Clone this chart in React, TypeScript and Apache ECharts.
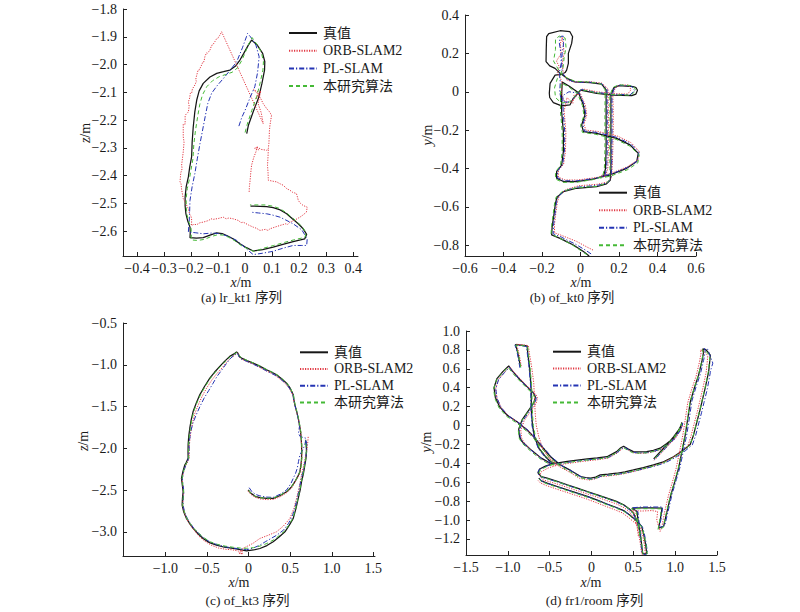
import React, { useEffect, useRef } from 'react';
import * as echarts from 'echarts';

const methodNames = ['真值', 'ORB-SLAM2', 'PL-SLAM', '本研究算法'];
const captions = ['(a) lr_kt1 序列', '(b) of_kt0 序列', '(c) of_kt3 序列', '(d) fr1/room 序列'];
const yNames = ['z', 'y', 'z', 'y'];

const aXTicks = [-0.4, -0.3, -0.2, -0.1, 0, 0.1, 0.2, 0.3, 0.4];
const aYTicks = [-2.6, -2.5, -2.4, -2.3, -2.2, -2.1, -2.0, -1.9, -1.8];
const bXTicks = [-0.6, -0.4, -0.2, 0, 0.2, 0.4, 0.6];
const bYTicks = [-0.8, -0.6, -0.4, -0.2, 0, 0.2, 0.4];
const cXTicks = [-1.0, -0.5, 0, 0.5, 1.0, 1.5];
const cYTicks = [-3.0, -2.5, -2.0, -1.5, -1.0, -0.5];
const dXTicks = [-1.5, -1.0, -0.5, 0, 0.5, 1.0, 1.5];
const dYTicks = [-1.2, -1.0, -0.8, -0.6, -0.4, -0.2, 0, 0.2, 0.4, 0.6, 0.8, 1.0];

// ---------------- (a) lr_kt1 ----------------
const aTruth = [[0.006,-2.249],[0.012,-2.22],[0.03,-2.17],[0.05,-2.12],[0.062,-2.07],[0.072,-2.02],[0.073,-1.99],[0.065,-1.96],[0.045,-1.93],[0.024,-1.912],[0.012,-1.93],[-0.005,-1.96],[-0.019,-1.984],[-0.035,-2.005],[-0.056,-2.02],[-0.08,-2.026],[-0.105,-2.032],[-0.13,-2.045],[-0.155,-2.068],[-0.17,-2.095],[-0.179,-2.128],[-0.186,-2.17],[-0.192,-2.225],[-0.196,-2.28],[-0.198,-2.333],[-0.205,-2.37],[-0.21,-2.405],[-0.218,-2.44],[-0.222,-2.477],[-0.222,-2.51],[-0.219,-2.538],[-0.212,-2.565],[-0.204,-2.586],[-0.203,-2.605],[-0.204,-2.624],[-0.18,-2.626],[-0.155,-2.624],[-0.13,-2.615],[-0.105,-2.607],[-0.085,-2.609],[-0.068,-2.616],[-0.045,-2.628],[-0.019,-2.646],[0.005,-2.66],[0.03,-2.672],[0.065,-2.667],[0.104,-2.658],[0.14,-2.648],[0.178,-2.638],[0.205,-2.632],[0.221,-2.628],[0.228,-2.612],[0.215,-2.592],[0.197,-2.574],[0.175,-2.556],[0.154,-2.538],[0.13,-2.524],[0.104,-2.516],[0.08,-2.512],[0.055,-2.511],[0.02,-2.51]];
const aOrb = [[0.015,-2.459],[0.016,-2.44],[0.018,-2.423],[0.021,-2.39],[0.024,-2.363],[0.032,-2.335],[0.04,-2.315],[0.045,-2.298],[0.035,-2.302],[0.05,-2.308],[0.042,-2.296],[0.06,-2.306],[0.08,-2.309],[0.086,-2.303],[0.088,-2.285],[0.089,-2.267],[0.09,-2.24],[0.092,-2.219],[0.098,-2.183],[0.09,-2.17],[0.08,-2.159],[0.067,-2.141],[0.055,-2.117],[0.045,-2.104],[0.03,-2.09],[0.05,-2.1],[0.04,-2.125],[0.058,-2.095],[0.048,-2.14],[0.06,-2.175],[0.067,-2.213],[-0.087,-1.882],[-0.093,-1.894],[-0.098,-1.9],[-0.1,-1.905],[-0.107,-1.909],[-0.112,-1.918],[-0.12,-1.93],[-0.124,-1.931],[-0.13,-1.948],[-0.14,-1.96],[-0.143,-1.958],[-0.149,-1.972],[-0.152,-1.99],[-0.156,-1.99],[-0.161,-2.002],[-0.17,-2.02],[-0.174,-2.02],[-0.179,-2.038],[-0.183,-2.055],[-0.18,-2.06],[-0.186,-2.074],[-0.195,-2.088],[-0.198,-2.104],[-0.203,-2.104],[-0.205,-2.12],[-0.21,-2.135],[-0.207,-2.15],[-0.21,-2.171],[-0.222,-2.183],[-0.222,-2.215],[-0.229,-2.215],[-0.229,-2.26],[-0.226,-2.28],[-0.229,-2.315],[-0.235,-2.363],[-0.233,-2.375],[-0.238,-2.39],[-0.241,-2.423],[-0.237,-2.43],[-0.235,-2.45],[-0.229,-2.483],[-0.225,-2.49],[-0.22,-2.5],[-0.21,-2.52],[-0.205,-2.54],[-0.201,-2.545],[-0.198,-2.556],[-0.198,-2.58],[-0.19,-2.576],[-0.179,-2.577],[-0.167,-2.57],[-0.155,-2.568],[-0.135,-2.562],[-0.126,-2.556],[-0.118,-2.558],[-0.1,-2.555],[-0.081,-2.55],[-0.07,-2.556],[-0.06,-2.553],[-0.044,-2.556],[-0.025,-2.562],[-0.015,-2.57],[-0.007,-2.568],[0.012,-2.578],[0.03,-2.586],[0.042,-2.59],[0.055,-2.598],[0.075,-2.594],[0.085,-2.598],[0.092,-2.592],[0.11,-2.586],[0.129,-2.58],[0.15,-2.574],[0.158,-2.576],[0.166,-2.568],[0.185,-2.56],[0.203,-2.55],[0.212,-2.544],[0.227,-2.532],[0.23,-2.514],[0.215,-2.508],[0.205,-2.5],[0.197,-2.49],[0.194,-2.478],[0.19,-2.465],[0.175,-2.46],[0.166,-2.453],[0.155,-2.448],[0.141,-2.435],[0.13,-2.43],[0.117,-2.423],[0.1,-2.42],[0.086,-2.417],[0.085,-2.39],[0.083,-2.363],[0.085,-2.33],[0.086,-2.303]];
const aPl = [[-0.023,-2.222],[-0.012,-2.19],[0.0,-2.165],[0.018,-2.12],[0.036,-2.08],[0.046,-2.03],[0.052,-1.972],[0.04,-1.93],[0.02,-1.9],[0.009,-1.888],[0.005,-1.9],[-0.01,-1.94],[-0.031,-1.99],[-0.055,-2.02],[-0.08,-2.05],[-0.105,-2.078],[-0.124,-2.104],[-0.138,-2.14],[-0.148,-2.189],[-0.158,-2.24],[-0.167,-2.285],[-0.177,-2.34],[-0.186,-2.393],[-0.196,-2.44],[-0.204,-2.49],[-0.206,-2.55],[-0.21,-2.604],[-0.185,-2.606],[-0.155,-2.61],[-0.12,-2.607],[-0.093,-2.61],[-0.06,-2.62],[-0.031,-2.634],[0.0,-2.66],[0.03,-2.685],[0.065,-2.68],[0.104,-2.673],[0.14,-2.662],[0.178,-2.652],[0.21,-2.652],[0.228,-2.652],[0.23,-2.628],[0.21,-2.596],[0.178,-2.574],[0.15,-2.56],[0.129,-2.55],[0.1,-2.542],[0.08,-2.538],[0.05,-2.535],[0.02,-2.532]];
const aOurs = [[0.0,-2.245],[0.008,-2.215],[0.025,-2.165],[0.043,-2.115],[0.056,-2.065],[0.066,-2.02],[0.068,-1.99],[0.06,-1.955],[0.042,-1.925],[0.026,-1.903],[0.014,-1.925],[0.0,-1.958],[-0.012,-1.985],[-0.028,-2.012],[-0.048,-2.028],[-0.072,-2.036],[-0.096,-2.044],[-0.12,-2.058],[-0.142,-2.08],[-0.158,-2.11],[-0.168,-2.145],[-0.176,-2.19],[-0.184,-2.24],[-0.19,-2.29],[-0.193,-2.34],[-0.2,-2.378],[-0.206,-2.412],[-0.214,-2.447],[-0.218,-2.482],[-0.218,-2.515],[-0.215,-2.542],[-0.207,-2.57],[-0.2,-2.59],[-0.199,-2.61],[-0.2,-2.632],[-0.176,-2.634],[-0.15,-2.63],[-0.126,-2.62],[-0.1,-2.613],[-0.08,-2.615],[-0.062,-2.622],[-0.04,-2.634],[-0.015,-2.652],[0.01,-2.664],[0.034,-2.674],[0.068,-2.662],[0.106,-2.652],[0.142,-2.642],[0.18,-2.632],[0.207,-2.626],[0.222,-2.622],[0.226,-2.606],[0.212,-2.586],[0.194,-2.568],[0.172,-2.55],[0.15,-2.532],[0.126,-2.518],[0.1,-2.51],[0.076,-2.506],[0.05,-2.506],[0.018,-2.506]];

// ---------------- (b) of_kt0 ----------------
const bTruth = [[0.045,-0.856],[0.015,-0.833],[-0.037,-0.799],[-0.075,-0.78],[-0.106,-0.764],[-0.15,-0.746],[-0.147,-0.7],[-0.138,-0.64],[-0.13,-0.58],[-0.122,-0.55],[-0.089,-0.521],[-0.02,-0.503],[0.084,-0.495],[0.135,-0.48],[0.155,-0.46],[0.158,-0.4],[0.158,-0.3],[0.158,-0.2],[0.158,-0.1],[0.158,-0.02],[0.172,0.02],[0.2,0.032],[0.274,0.027],[0.288,0.022],[0.296,0.008],[0.288,-0.012],[0.266,-0.02],[0.17,-0.017],[0.084,-0.008],[0.0,0.009],[-0.029,-0.026],[-0.037,-0.034],[-0.055,-0.069],[-0.098,-0.074],[-0.141,-0.057],[-0.16,-0.03],[-0.162,-0.008],[-0.158,0.044],[-0.132,0.087],[-0.1,0.09],[-0.08,0.1],[-0.072,0.113],[-0.063,0.148],[-0.063,0.2],[-0.046,0.252],[-0.041,0.287],[-0.055,0.313],[-0.106,0.318],[-0.165,0.303],[-0.176,0.287],[-0.178,0.22],[-0.179,0.157],[-0.16,0.135],[-0.132,0.122],[-0.106,0.096],[-0.07,0.07],[-0.03,0.052],[0.05,0.048],[0.11,0.04],[0.133,0.01],[0.133,-0.1],[0.133,-0.2],[0.133,-0.3],[0.13,-0.4],[0.12,-0.44],[0.067,-0.455],[-0.02,-0.468],[-0.089,-0.468],[-0.124,-0.451],[-0.124,-0.416],[-0.098,-0.382],[-0.089,-0.312],[-0.089,-0.208],[-0.098,-0.104],[-0.098,-0.017],[-0.095,0.05],[-0.06,0.03],[-0.01,-0.005],[0.015,-0.069],[0.023,-0.121],[0.006,-0.173],[0.015,-0.208],[0.084,-0.217],[0.188,-0.243],[0.257,-0.277],[0.3,-0.321],[0.292,-0.364],[0.24,-0.399],[0.153,-0.434],[0.1,-0.445]];
const bOrb = [[0.065,-0.825],[0.035,-0.81],[-0.02,-0.78],[-0.07,-0.76],[-0.1,-0.748],[-0.135,-0.735],[-0.135,-0.69],[-0.128,-0.63],[-0.12,-0.575],[-0.11,-0.54],[-0.075,-0.51],[-0.01,-0.49],[0.09,-0.482],[0.14,-0.47],[0.16,-0.45],[0.165,-0.39],[0.168,-0.3],[0.17,-0.2],[0.17,-0.1],[0.168,-0.02],[0.18,0.02],[0.205,0.035],[0.25,0.035],[0.262,0.01],[0.245,-0.012],[0.17,-0.01],[0.085,0.0],[0.01,0.015],[-0.02,-0.02],[-0.045,-0.05],[-0.07,-0.06],[-0.09,-0.04],[-0.1,0.0],[-0.095,0.05],[-0.12,0.1],[-0.11,0.13],[-0.125,0.16],[-0.1,0.2],[-0.105,0.25],[-0.095,0.285],[-0.09,0.25],[-0.085,0.2],[-0.095,0.15],[-0.09,0.1],[-0.07,0.06],[-0.03,0.05],[0.05,0.052],[0.11,0.045],[0.143,0.015],[0.145,-0.1],[0.145,-0.2],[0.145,-0.3],[0.142,-0.4],[0.13,-0.44],[0.075,-0.448],[-0.015,-0.46],[-0.08,-0.46],[-0.115,-0.445],[-0.115,-0.41],[-0.088,-0.378],[-0.078,-0.31],[-0.076,-0.21],[-0.085,-0.1],[-0.07,-0.03],[-0.04,-0.06],[-0.035,-0.02],[0.0,-0.01],[0.025,-0.07],[0.033,-0.12],[0.018,-0.17],[0.028,-0.2],[0.09,-0.207],[0.195,-0.232],[0.262,-0.265],[0.305,-0.31],[0.298,-0.355],[0.245,-0.39],[0.16,-0.425],[0.105,-0.437]];
const bPl = [[0.055,-0.845],[0.025,-0.825],[-0.03,-0.792],[-0.07,-0.773],[-0.1,-0.757],[-0.142,-0.74],[-0.14,-0.695],[-0.132,-0.635],[-0.125,-0.578],[-0.115,-0.545],[-0.082,-0.515],[-0.015,-0.497],[0.086,-0.488],[0.138,-0.475],[0.158,-0.455],[0.162,-0.395],[0.163,-0.3],[0.164,-0.2],[0.164,-0.1],[0.163,-0.02],[0.176,0.02],[0.202,0.034],[0.265,0.03],[0.282,0.006],[0.258,-0.016],[0.17,-0.013],[0.084,-0.004],[0.005,0.012],[-0.025,-0.022],[-0.05,-0.05],[-0.075,-0.055],[-0.1,-0.045],[-0.108,0.0],[-0.105,0.05],[-0.11,0.1],[-0.1,0.15],[-0.102,0.2],[-0.11,0.255],[-0.105,0.288],[-0.09,0.29],[-0.088,0.25],[-0.095,0.2],[-0.098,0.15],[-0.095,0.1],[-0.07,0.065],[-0.03,0.05],[0.05,0.05],[0.11,0.042],[0.138,0.012],[0.139,-0.1],[0.139,-0.2],[0.139,-0.3],[0.136,-0.4],[0.125,-0.442],[0.07,-0.452],[-0.018,-0.464],[-0.085,-0.464],[-0.12,-0.448],[-0.12,-0.413],[-0.093,-0.38],[-0.083,-0.31],[-0.082,-0.208],[-0.09,-0.104],[-0.092,-0.02],[-0.06,0.0],[-0.005,-0.008],[0.02,-0.069],[0.028,-0.121],[0.012,-0.172],[0.021,-0.205],[0.087,-0.212],[0.19,-0.238],[0.26,-0.272],[0.303,-0.316],[0.296,-0.36],[0.243,-0.395],[0.157,-0.43],[0.103,-0.441]];
const bOurs = [[0.035,-0.85],[0.005,-0.83],[-0.045,-0.797],[-0.08,-0.778],[-0.11,-0.762],[-0.153,-0.742],[-0.15,-0.697],[-0.142,-0.638],[-0.134,-0.578],[-0.126,-0.548],[-0.092,-0.518],[-0.022,-0.5],[0.082,-0.493],[0.134,-0.477],[0.152,-0.458],[0.153,-0.4],[0.152,-0.3],[0.153,-0.2],[0.153,-0.1],[0.152,-0.02],[0.168,0.022],[0.198,0.036],[0.27,0.032],[0.29,0.008],[0.262,-0.018],[0.168,-0.015],[0.082,-0.006],[0.0,0.012],[-0.032,-0.028],[-0.058,-0.055],[-0.1,-0.058],[-0.13,-0.03],[-0.135,0.02],[-0.12,0.07],[-0.1,0.09],[-0.14,0.16],[-0.13,0.22],[-0.13,0.275],[-0.11,0.29],[-0.08,0.28],[-0.075,0.23],[-0.085,0.18],[-0.09,0.13],[-0.1,0.1],[-0.07,0.072],[-0.03,0.055],[0.05,0.05],[0.105,0.042],[0.128,0.01],[0.127,-0.1],[0.127,-0.2],[0.127,-0.3],[0.124,-0.4],[0.115,-0.442],[0.064,-0.458],[-0.022,-0.472],[-0.092,-0.472],[-0.13,-0.455],[-0.13,-0.418],[-0.104,-0.384],[-0.095,-0.312],[-0.095,-0.208],[-0.104,-0.104],[-0.104,-0.017],[-0.1,0.045],[-0.065,0.028],[-0.015,-0.01],[0.01,-0.072],[0.018,-0.124],[0.0,-0.176],[0.01,-0.212],[0.08,-0.222],[0.185,-0.248],[0.255,-0.283],[0.305,-0.328],[0.298,-0.37],[0.245,-0.406],[0.155,-0.44],[0.1,-0.45]];

// ---------------- (c) of_kt3 ----------------
const cTruth = [[-0.005,-2.5],[0.03,-2.54],[0.08,-2.575],[0.136,-2.592],[0.22,-2.6],[0.296,-2.6],[0.38,-2.565],[0.457,-2.52],[0.51,-2.47],[0.557,-2.4],[0.595,-2.33],[0.617,-2.28],[0.63,-2.2],[0.637,-2.12],[0.638,-2.04],[0.637,-1.96],[0.632,-1.88],[0.625,-1.8],[0.612,-1.72],[0.597,-1.64],[0.578,-1.56],[0.557,-1.48],[0.545,-1.42],[0.537,-1.36],[0.5,-1.28],[0.457,-1.22],[0.4,-1.17],[0.336,-1.12],[0.28,-1.09],[0.216,-1.06],[0.14,-1.02],[0.055,-0.98],[-0.02,-0.95],[-0.085,-0.92],[-0.11,-0.9],[-0.13,-0.86],[-0.145,-0.848],[-0.175,-0.87],[-0.226,-0.9],[-0.29,-0.96],[-0.346,-1.02],[-0.41,-1.09],[-0.466,-1.16],[-0.53,-1.26],[-0.587,-1.36],[-0.63,-1.46],[-0.667,-1.56],[-0.69,-1.66],[-0.707,-1.76],[-0.72,-1.86],[-0.727,-1.96],[-0.728,-2.05],[-0.727,-2.12],[-0.75,-2.17],[-0.767,-2.2],[-0.79,-2.28],[-0.807,-2.36],[-0.797,-2.44],[-0.787,-2.52],[-0.795,-2.6],[-0.799,-2.68],[-0.78,-2.76],[-0.747,-2.84],[-0.71,-2.9],[-0.667,-2.96],[-0.61,-3.02],[-0.547,-3.08],[-0.47,-3.13],[-0.386,-3.16],[-0.29,-3.185],[-0.185,-3.2],[-0.1,-3.215],[-0.025,-3.228],[0.06,-3.218],[0.136,-3.2],[0.22,-3.165],[0.296,-3.12],[0.37,-3.06],[0.437,-3.0],[0.49,-2.92],[0.537,-2.84],[0.57,-2.72],[0.597,-2.6],[0.62,-2.5],[0.637,-2.4],[0.66,-2.3],[0.677,-2.2],[0.69,-2.12],[0.697,-2.04],[0.694,-1.97],[0.685,-1.9]];
const cOrb = [[-0.01,-2.51],[0.025,-2.55],[0.08,-2.588],[0.136,-2.606],[0.22,-2.615],[0.3,-2.612],[0.385,-2.578],[0.46,-2.53],[0.515,-2.478],[0.56,-2.405],[0.598,-2.335],[0.62,-2.285],[0.632,-2.2],[0.64,-2.12],[0.641,-2.04],[0.638,-1.96],[0.633,-1.88],[0.626,-1.8],[0.612,-1.72],[0.596,-1.64],[0.576,-1.56],[0.555,-1.48],[0.541,-1.42],[0.532,-1.36],[0.49,-1.285],[0.445,-1.228],[0.39,-1.18],[0.33,-1.135],[0.27,-1.1],[0.205,-1.07],[0.13,-1.03],[0.05,-0.99],[-0.025,-0.96],[-0.09,-0.93],[-0.11,-0.91],[-0.12,-0.87],[-0.13,-0.86],[-0.16,-0.88],[-0.21,-0.915],[-0.27,-0.975],[-0.32,-1.04],[-0.385,-1.11],[-0.44,-1.18],[-0.505,-1.28],[-0.56,-1.38],[-0.605,-1.48],[-0.645,-1.58],[-0.67,-1.68],[-0.69,-1.78],[-0.705,-1.88],[-0.712,-1.97],[-0.715,-2.05],[-0.715,-2.12],[-0.74,-2.18],[-0.758,-2.21],[-0.782,-2.29],[-0.8,-2.37],[-0.79,-2.45],[-0.78,-2.53],[-0.787,-2.61],[-0.79,-2.69],[-0.772,-2.77],[-0.74,-2.85],[-0.7,-2.92],[-0.655,-2.98],[-0.6,-3.05],[-0.53,-3.11],[-0.45,-3.16],[-0.36,-3.195],[-0.27,-3.21],[-0.2,-3.215],[-0.15,-3.225],[-0.12,-3.23],[-0.105,-3.27],[-0.095,-3.215],[-0.08,-3.275],[-0.07,-3.2],[-0.03,-3.18],[0.05,-3.14],[0.136,-3.08],[0.24,-3.04],[0.336,-3.0],[0.42,-2.93],[0.497,-2.84],[0.545,-2.72],[0.577,-2.6],[0.61,-2.46],[0.637,-2.32],[0.668,-2.18],[0.697,-2.04],[0.71,-1.95],[0.717,-1.86]];
const cPl = [[0.007,-2.472],[0.04,-2.52],[0.085,-2.553],[0.136,-2.57],[0.22,-2.585],[0.296,-2.588],[0.38,-2.55],[0.457,-2.5],[0.51,-2.42],[0.537,-2.36],[0.565,-2.3],[0.585,-2.24],[0.6,-2.16],[0.617,-2.08],[0.65,-2.02],[0.677,-1.96],[0.69,-1.88],[0.62,-1.86],[0.6,-1.82],[0.612,-1.74],[0.6,-1.66],[0.58,-1.57],[0.558,-1.49],[0.545,-1.43],[0.535,-1.37],[0.498,-1.29],[0.455,-1.232],[0.395,-1.18],[0.33,-1.13],[0.27,-1.1],[0.21,-1.07],[0.135,-1.03],[0.05,-0.99],[-0.025,-0.958],[-0.09,-0.93],[-0.115,-0.905],[-0.13,-0.87],[-0.14,-0.858],[-0.17,-0.885],[-0.215,-0.92],[-0.27,-0.99],[-0.32,-1.06],[-0.38,-1.14],[-0.426,-1.22],[-0.48,-1.31],[-0.535,-1.4],[-0.585,-1.5],[-0.63,-1.6],[-0.67,-1.7],[-0.695,-1.8],[-0.71,-1.9],[-0.715,-1.99],[-0.716,-2.08],[-0.73,-2.15],[-0.755,-2.2],[-0.78,-2.28],[-0.797,-2.36],[-0.788,-2.44],[-0.778,-2.52],[-0.785,-2.6],[-0.788,-2.68],[-0.77,-2.76],[-0.737,-2.84],[-0.7,-2.9],[-0.657,-2.96],[-0.6,-3.02],[-0.537,-3.075],[-0.46,-3.125],[-0.376,-3.155],[-0.28,-3.18],[-0.18,-3.195],[-0.1,-3.205],[-0.025,-3.215],[0.055,-3.195],[0.136,-3.16],[0.2,-3.12],[0.27,-3.08],[0.34,-3.04],[0.42,-2.98],[0.48,-2.9],[0.53,-2.8],[0.56,-2.7],[0.59,-2.58],[0.61,-2.48],[0.63,-2.38],[0.655,-2.28],[0.675,-2.18],[0.69,-2.08],[0.7,-2.0],[0.698,-1.94],[0.695,-1.9]];
const cOurs = [[0.0,-2.505],[0.035,-2.545],[0.085,-2.578],[0.14,-2.594],[0.222,-2.598],[0.298,-2.596],[0.382,-2.56],[0.46,-2.515],[0.513,-2.465],[0.56,-2.395],[0.598,-2.326],[0.62,-2.276],[0.633,-2.198],[0.64,-2.12],[0.641,-2.04],[0.64,-1.96],[0.635,-1.88],[0.628,-1.8],[0.615,-1.72],[0.6,-1.64],[0.581,-1.56],[0.56,-1.48],[0.548,-1.42],[0.54,-1.36],[0.503,-1.28],[0.46,-1.22],[0.403,-1.168],[0.34,-1.118],[0.283,-1.088],[0.22,-1.058],[0.143,-1.018],[0.058,-0.978],[-0.017,-0.948],[-0.082,-0.918],[-0.107,-0.898],[-0.125,-0.862],[-0.14,-0.852],[-0.17,-0.872],[-0.22,-0.903],[-0.284,-0.963],[-0.34,-1.023],[-0.404,-1.093],[-0.46,-1.163],[-0.524,-1.263],[-0.58,-1.363],[-0.624,-1.463],[-0.66,-1.563],[-0.684,-1.663],[-0.7,-1.763],[-0.714,-1.863],[-0.72,-1.963],[-0.722,-2.053],[-0.72,-2.123],[-0.744,-2.173],[-0.76,-2.203],[-0.784,-2.283],[-0.8,-2.363],[-0.79,-2.443],[-0.78,-2.523],[-0.788,-2.603],[-0.792,-2.683],[-0.773,-2.763],[-0.74,-2.843],[-0.703,-2.9],[-0.66,-2.958],[-0.603,-3.015],[-0.54,-3.07],[-0.46,-3.12],[-0.376,-3.15],[-0.28,-3.172],[-0.18,-3.186],[-0.1,-3.195],[-0.025,-3.198],[0.06,-3.19],[0.14,-3.17],[0.22,-3.14],[0.296,-3.1],[0.37,-3.045],[0.437,-2.988],[0.49,-2.91],[0.535,-2.832],[0.567,-2.716],[0.594,-2.598],[0.617,-2.498],[0.634,-2.398],[0.657,-2.298],[0.674,-2.198],[0.687,-2.118],[0.694,-2.04],[0.691,-1.97],[0.682,-1.9]];

// ---------------- (d) fr1/room (null = break in the track) ----------------
const dTruth = [[-0.85,0.62],[-0.87,0.72],[-0.89,0.8],[-0.91,0.856],[-0.84,0.85],[-0.77,0.842],[-0.76,0.75],[-0.745,0.65],[-0.735,0.55],[-0.725,0.45],[-0.72,0.35],[-0.72,0.25],[-0.715,0.12],[-0.705,0.0],[-0.68,-0.12],[-0.63,-0.24],[-0.55,-0.33],[-0.49,-0.38],[-0.45,-0.4],[-0.55,-0.43],[-0.62,-0.46],[-0.64,-0.5],[-0.6,-0.54],[-0.53,-0.557],[-0.41,-0.59],[-0.29,-0.627],[-0.17,-0.662],[-0.05,-0.698],[0.07,-0.733],[0.185,-0.768],[0.29,-0.8],[0.384,-0.838],[0.45,-0.88],[0.5,-0.926],[0.535,-0.99],[0.56,-1.05],[0.578,-1.12],[0.59,-1.19],[0.6,-1.27],[0.61,-1.35],[0.635,-1.36],[0.66,-1.35],[0.645,-1.25],[0.625,-1.155],[0.6,-1.07],[0.565,-1.03],[0.52,-0.996],[0.46,-0.95],[0.384,-0.9],[0.29,-0.865],[0.185,-0.83],[0.07,-0.79],[-0.05,-0.75],[-0.17,-0.715],[-0.29,-0.68],[-0.41,-0.645],[-0.53,-0.61],[-0.6,-0.585],[-0.63,-0.557],null,[0.583,-1.155],[0.56,-1.03],[0.544,-0.91],[0.484,-0.873],[0.6,-0.872],[0.72,-0.871],[0.843,-0.873],[0.825,-0.98],[0.802,-1.085],[0.862,-1.067],[0.9,-0.92],[0.95,-0.73],[1.0,-0.58],[1.041,-0.452],[1.08,-0.28],[1.121,-0.1],[1.15,0.07],[1.181,0.251],[1.23,0.4],[1.28,0.533],[1.32,0.68],[1.34,0.778],[1.33,0.81],[1.37,0.8],[1.42,0.744],[1.41,0.65],[1.4,0.568],[1.36,0.4],[1.32,0.251],[1.29,0.14],[1.26,0.04],[1.22,-0.1],[1.18,-0.2],[1.1,-0.26],[0.98,-0.33],[0.86,-0.385],[0.74,-0.417],[0.62,-0.445],[0.5,-0.47],[0.4,-0.49],[0.3,-0.505],[0.2,-0.515],[0.105,-0.522],[0.05,-0.545],[-0.01,-0.557],[-0.07,-0.55],[-0.13,-0.54],[-0.25,-0.475],[-0.37,-0.417],[-0.49,-0.33],[-0.61,-0.206],[-0.69,-0.12],[-0.77,-0.047],[-0.89,0.04],[-1.01,0.11],[-1.1,0.2],[-1.15,0.3],[-1.165,0.4],[-1.13,0.497],[-1.06,0.57],[-0.99,0.63],[-0.95,0.58],[-0.87,0.5],[-0.78,0.42],[-0.69,0.34],[-0.67,0.3],[-0.69,0.24],[-0.76,0.15],[-0.83,0.06],[-0.87,-0.04],[-0.86,-0.12],[-0.83,-0.17],[-0.72,-0.26],[-0.6,-0.345],[-0.49,-0.4],[-0.4,-0.395],[-0.29,-0.38],[-0.17,-0.365],[-0.05,-0.353],[0.07,-0.342],[0.185,-0.33],[0.25,-0.3],[0.3,-0.276],[0.35,-0.235],[0.384,-0.22],[0.44,-0.25],[0.5,-0.276],[0.58,-0.28],[0.66,-0.276],[0.74,-0.262],[0.82,-0.24],[0.9,-0.19],[0.98,-0.135],[1.03,-0.07],[1.06,-0.03],[1.08,0.033],[1.07,0.0],[1.04,-0.05],[0.98,-0.12],[0.9,-0.206],[0.82,-0.28],[0.743,-0.353]];
const dOrb = [[-0.84,0.63],[-0.86,0.73],[-0.88,0.81],[-0.9,0.86],[-0.83,0.855],[-0.755,0.845],[-0.74,0.75],[-0.72,0.65],[-0.705,0.55],[-0.69,0.45],[-0.685,0.35],[-0.68,0.25],[-0.672,0.12],[-0.66,0.0],[-0.63,-0.12],[-0.58,-0.25],[-0.5,-0.35],[-0.44,-0.4],[-0.41,-0.42],[-0.52,-0.45],[-0.6,-0.49],[-0.62,-0.53],[-0.58,-0.575],[-0.5,-0.595],[-0.39,-0.625],[-0.27,-0.66],[-0.15,-0.695],[-0.03,-0.73],[0.09,-0.765],[0.2,-0.8],[0.3,-0.83],[0.39,-0.87],[0.45,-0.91],[0.49,-0.96],[0.525,-1.02],[0.55,-1.08],[0.565,-1.15],[0.578,-1.22],[0.59,-1.29],[0.6,-1.36],[0.625,-1.37],[0.645,-1.36],[0.632,-1.26],[0.612,-1.165],[0.588,-1.085],[0.55,-1.05],[0.505,-1.02],[0.445,-0.975],[0.37,-0.925],[0.275,-0.89],[0.17,-0.855],[0.055,-0.815],[-0.065,-0.775],[-0.185,-0.74],[-0.305,-0.705],[-0.425,-0.67],[-0.54,-0.635],[-0.61,-0.608],[-0.64,-0.58],null,[0.56,-1.17],[0.54,-1.04],[0.52,-0.925],[0.47,-0.9],[0.6,-0.905],[0.72,-0.9],[0.79,-0.91],[0.78,-1.0],[0.82,-1.12],[0.84,-1.08],[0.87,-0.93],[0.92,-0.74],[0.97,-0.59],[1.01,-0.46],[1.05,-0.29],[1.09,-0.11],[1.12,0.06],[1.15,0.24],[1.2,0.39],[1.25,0.52],[1.29,0.67],[1.31,0.77],[1.3,0.8],[1.34,0.79],[1.39,0.74],[1.38,0.645],[1.37,0.56],[1.33,0.39],[1.29,0.24],[1.26,0.13],[1.23,0.03],[1.19,-0.11],[1.15,-0.22],[1.07,-0.28],[0.95,-0.35],[0.83,-0.405],[0.71,-0.437],[0.6,-0.465],[0.49,-0.49],[0.39,-0.51],[0.29,-0.525],[0.19,-0.535],[0.1,-0.542],[0.04,-0.565],[-0.02,-0.577],[-0.08,-0.57],[-0.14,-0.56],[-0.26,-0.495],[-0.38,-0.437],[-0.5,-0.35],[-0.6,-0.225],[-0.67,-0.14],[-0.75,-0.06],[-0.87,0.03],[-0.99,0.1],[-1.08,0.19],[-1.13,0.29],[-1.145,0.39],[-1.11,0.49],[-1.04,0.565],[-0.975,0.62],[-0.93,0.57],[-0.85,0.49],[-0.76,0.41],[-0.665,0.33],[-0.645,0.29],[-0.665,0.23],[-0.735,0.14],[-0.805,0.05],[-0.845,-0.05],[-0.835,-0.13],[-0.805,-0.185],[-0.7,-0.28],[-0.58,-0.365],[-0.47,-0.42],[-0.38,-0.415],[-0.27,-0.4],[-0.15,-0.385],[-0.03,-0.372],[0.09,-0.36],[0.2,-0.345],[0.26,-0.315],[0.31,-0.29],[0.36,-0.25],[0.395,-0.235],[0.45,-0.265],[0.51,-0.29],[0.59,-0.295],[0.67,-0.29],[0.75,-0.276],[0.83,-0.255],[0.91,-0.205],[0.99,-0.15],[1.04,-0.085],[1.07,-0.045],[1.09,0.02],[1.08,-0.015],[1.05,-0.065],[0.99,-0.135],[0.91,-0.22],[0.83,-0.295],[0.75,-0.368]];
const dPl = [[-0.855,0.61],[-0.875,0.71],[-0.895,0.8],[-0.915,0.85],[-0.845,0.845],[-0.775,0.835],[-0.765,0.745],[-0.75,0.645],[-0.74,0.545],[-0.73,0.445],[-0.725,0.345],[-0.725,0.245],[-0.72,0.115],[-0.71,-0.005],[-0.685,-0.125],[-0.635,-0.245],[-0.555,-0.335],[-0.495,-0.385],[-0.455,-0.405],[-0.555,-0.435],[-0.625,-0.465],[-0.645,-0.505],[-0.605,-0.545],[-0.535,-0.562],[-0.415,-0.595],[-0.295,-0.632],[-0.175,-0.667],[-0.055,-0.703],[0.065,-0.738],[0.18,-0.773],[0.285,-0.805],[0.38,-0.843],[0.446,-0.885],[0.496,-0.931],[0.53,-0.995],[0.555,-1.055],[0.573,-1.125],[0.585,-1.195],[0.595,-1.275],[0.605,-1.355],[0.64,-1.365],[0.67,-1.355],[0.655,-1.255],[0.635,-1.16],[0.61,-1.075],[0.575,-1.035],[0.53,-1.0],[0.47,-0.955],[0.394,-0.905],[0.3,-0.87],[0.195,-0.835],[0.08,-0.795],[-0.04,-0.755],[-0.16,-0.72],[-0.28,-0.685],[-0.4,-0.65],[-0.52,-0.615],[-0.59,-0.59],[-0.62,-0.562],null,[0.59,-1.16],[0.57,-1.035],[0.555,-0.915],[0.49,-0.87],[0.6,-0.862],[0.72,-0.862],[0.85,-0.862],[0.835,-0.97],[0.81,-1.08],[0.875,-1.06],[0.915,-0.91],[0.965,-0.72],[1.015,-0.57],[1.058,-0.44],[1.098,-0.27],[1.14,-0.09],[1.17,0.08],[1.2,0.26],[1.25,0.41],[1.3,0.54],[1.34,0.69],[1.36,0.785],[1.35,0.815],[1.39,0.805],[1.45,0.66],[1.43,0.6],[1.42,0.56],[1.385,0.39],[1.345,0.245],[1.315,0.135],[1.285,0.035],[1.245,-0.105],[1.205,-0.205],[1.12,-0.268],[1.0,-0.34],[0.88,-0.395],[0.76,-0.428],[0.64,-0.455],[0.52,-0.48],[0.42,-0.5],[0.32,-0.515],[0.22,-0.525],[0.125,-0.532],[0.07,-0.555],[0.01,-0.567],[-0.05,-0.56],[-0.11,-0.55],[-0.23,-0.485],[-0.35,-0.427],[-0.47,-0.34],[-0.59,-0.216],[-0.67,-0.13],[-0.75,-0.057],[-0.87,0.03],[-0.99,0.1],[-1.08,0.19],[-1.13,0.29],[-1.145,0.39],[-1.11,0.487],[-1.04,0.56],[-0.98,0.615],[-0.94,0.57],[-0.86,0.49],[-0.77,0.41],[-0.68,0.33],[-0.66,0.29],[-0.68,0.23],[-0.75,0.14],[-0.82,0.05],[-0.86,-0.05],[-0.85,-0.13],[-0.82,-0.18],[-0.71,-0.27],[-0.59,-0.355],[-0.48,-0.41],[-0.39,-0.405],[-0.28,-0.39],[-0.16,-0.375],[-0.04,-0.363],[0.08,-0.352],[0.195,-0.34],[0.26,-0.31],[0.31,-0.285],[0.36,-0.245],[0.394,-0.23],[0.45,-0.26],[0.51,-0.286],[0.59,-0.29],[0.67,-0.286],[0.75,-0.272],[0.83,-0.25],[0.91,-0.2],[0.99,-0.145],[1.04,-0.08],[1.07,-0.04],[1.09,0.025],[1.08,-0.01],[1.05,-0.06],[0.99,-0.13],[0.91,-0.216],[0.83,-0.29],[0.75,-0.363]];
const dOurs = [[-0.845,0.615],[-0.865,0.715],[-0.885,0.795],[-0.905,0.85],[-0.835,0.846],[-0.765,0.838],[-0.752,0.748],[-0.738,0.648],[-0.728,0.548],[-0.717,0.448],[-0.712,0.348],[-0.71,0.248],[-0.705,0.118],[-0.695,-0.002],[-0.67,-0.122],[-0.62,-0.242],[-0.54,-0.332],[-0.48,-0.382],[-0.44,-0.405],[-0.54,-0.437],[-0.61,-0.468],[-0.63,-0.508],[-0.59,-0.548],[-0.52,-0.565],[-0.4,-0.598],[-0.28,-0.635],[-0.16,-0.67],[-0.04,-0.706],[0.08,-0.741],[0.195,-0.776],[0.3,-0.808],[0.392,-0.846],[0.457,-0.888],[0.505,-0.935],[0.54,-0.998],[0.565,-1.058],[0.582,-1.128],[0.594,-1.198],[0.604,-1.278],[0.614,-1.358],[0.64,-1.368],[0.666,-1.358],[0.65,-1.258],[0.63,-1.163],[0.605,-1.078],[0.57,-1.04],[0.525,-1.005],[0.465,-0.96],[0.39,-0.91],[0.296,-0.875],[0.19,-0.84],[0.075,-0.8],[-0.045,-0.76],[-0.165,-0.725],[-0.285,-0.69],[-0.405,-0.655],[-0.525,-0.62],[-0.595,-0.594],[-0.625,-0.566],null,[0.578,-1.17],[0.555,-1.04],[0.538,-0.92],[0.478,-0.882],[0.6,-0.88],[0.72,-0.88],[0.835,-0.882],[0.818,-0.99],[0.795,-1.1],[0.856,-1.08],[0.893,-0.93],[0.943,-0.74],[0.993,-0.59],[1.034,-0.462],[1.074,-0.29],[1.115,-0.11],[1.145,0.06],[1.175,0.24],[1.225,0.39],[1.275,0.523],[1.315,0.67],[1.335,0.768],[1.325,0.8],[1.365,0.79],[1.415,0.735],[1.405,0.64],[1.395,0.56],[1.355,0.39],[1.315,0.24],[1.285,0.13],[1.255,0.03],[1.215,-0.11],[1.175,-0.21],[1.095,-0.272],[0.975,-0.342],[0.855,-0.397],[0.735,-0.43],[0.615,-0.458],[0.495,-0.483],[0.395,-0.503],[0.295,-0.518],[0.195,-0.528],[0.1,-0.535],[0.045,-0.558],[-0.015,-0.57],[-0.075,-0.563],[-0.135,-0.553],[-0.255,-0.488],[-0.375,-0.43],[-0.495,-0.343],[-0.615,-0.219],[-0.695,-0.133],[-0.775,-0.06],[-0.895,0.027],[-1.015,0.097],[-1.105,0.187],[-1.155,0.287],[-1.17,0.387],[-1.135,0.484],[-1.065,0.557],[-0.995,0.617],[-0.955,0.567],[-0.875,0.487],[-0.785,0.407],[-0.695,0.327],[-0.675,0.287],[-0.695,0.227],[-0.765,0.137],[-0.835,0.047],[-0.875,-0.053],[-0.865,-0.133],[-0.835,-0.183],[-0.725,-0.273],[-0.605,-0.358],[-0.495,-0.413],[-0.405,-0.408],[-0.295,-0.393],[-0.175,-0.378],[-0.055,-0.366],[0.065,-0.355],[0.18,-0.343],[0.245,-0.313],[0.295,-0.289],[0.345,-0.248],[0.379,-0.233],[0.435,-0.263],[0.495,-0.289],[0.575,-0.293],[0.655,-0.289],[0.735,-0.275],[0.815,-0.253],[0.895,-0.203],[0.975,-0.148],[1.025,-0.083],[1.055,-0.043],[1.075,0.02],[1.065,-0.013],[1.035,-0.063],[0.975,-0.133],[0.895,-0.219],[0.815,-0.293],[0.738,-0.366]];

const SERIF = "'Liberation Serif', 'Times New Roman', 'Noto Sans CJK SC', serif";
const INK = '#1a1a1a';

const lineStyles = [
  { color: '#161616', width: 1.25, type: 'solid' },
  { color: '#e23a44', width: 1, type: [1.2, 1.3] },
  { color: '#2434b4', width: 1, type: [5, 2, 1.2, 2] },
  { color: '#45b936', width: 1, type: [4, 3] },
];

const panelLayouts = [
  { grid: { left: 123, top: 9, width: 235, height: 247 }, xr: [-0.452, 0.418], yr: [-2.69, -1.8], legend: { left: 288, top: 26, gap: 3.7 }, xName: [241, 282], yName: [85, 133], cap: [241.5, 297.5] },
  { grid: { left: 465, top: 15, width: 231, height: 241 }, xr: [-0.6, 0.6], yr: [-0.856, 0.4], legend: { left: 598, top: 185.7, gap: 3.5 }, xName: [581, 282], yName: [427, 135], cap: [572, 297.5] },
  { grid: { left: 123, top: 323, width: 252, height: 233 }, xr: [-1.51, 1.52], yr: [-3.29, -0.5], legend: { left: 299, top: 345.3, gap: 2.7 }, xName: [239, 582], yName: [83, 441], cap: [247.5, 600] },
  { grid: { left: 466, top: 331, width: 251, height: 224 }, xr: [-1.5, 1.5], yr: [-1.37, 1.0], legend: { left: 552, top: 344.7, gap: 2.9 }, xName: [591, 582], yName: [426, 442], cap: [594.5, 600] },
];

const panelTicks = [
  [aXTicks, aYTicks],
  [bXTicks, bYTicks],
  [cXTicks, cYTicks],
  [dXTicks, dYTicks],
];

const panelData = [
  [aTruth, aOrb, aPl, aOurs],
  [bTruth, bOrb, bPl, bOurs],
  [cTruth, cOrb, cPl, cOurs],
  [dTruth, dOrb, dPl, dOurs],
];

function splitSegments(pts: any[]): number[][][] {
  const out: number[][][] = [[]];
  for (const p of pts) {
    if (p === null) out.push([]);
    else out[out.length - 1].push(p);
  }
  return out.filter((s) => s.length > 1);
}

function fmt(v: number): string {
  if (Math.abs(v) < 1e-9) return '0';
  return (v < 0 ? '\u2212' : '') + Math.abs(v).toFixed(1);
}

function axisCommon(ticks: number[], isY: boolean) {
  return {
    axisLine: { show: true, onZero: false, lineStyle: { color: '#222', width: 1 } },
    axisTick: { show: true, inside: true, length: 4, customValues: ticks, lineStyle: { color: '#222', width: 1 } },
    axisLabel: {
      customValues: ticks,
      formatter: (v: number) => fmt(v),
      color: INK,
      fontFamily: SERIF,
      fontSize: 14,
      margin: isY ? 6 : 5,
    },
    splitLine: { show: false },
  };
}

function textEl(x: number, y: number, text: string, size: number, rotation = 0, rich = false) {
  const style: any = {
    text,
    fontFamily: SERIF,
    fontSize: size,
    fill: INK,
    align: 'center',
    verticalAlign: 'middle',
    textAlign: 'center',
    textVerticalAlign: 'middle',
  };
  if (rich) style.rich = { i: { fontStyle: 'italic', fontFamily: SERIF, fontSize: size, fill: INK } };
  return { type: 'text', x, y, rotation, silent: true, style };
}

function buildOption() {
  const grid: any[] = [];
  const xAxis: any[] = [];
  const yAxis: any[] = [];
  const series: any[] = [];
  const legend: any[] = [];
  const graphic: any[] = [];

  panelLayouts.forEach((p, i) => {
    grid.push({ ...p.grid, containLabel: false });
    xAxis.push({ type: 'value', gridIndex: i, min: p.xr[0], max: p.xr[1], ...axisCommon(panelTicks[i][0], false) });
    yAxis.push({ type: 'value', gridIndex: i, min: p.yr[0], max: p.yr[1], ...axisCommon(panelTicks[i][1], true) });

    panelData[i].forEach((track, m) => {
      splitSegments(track).forEach((seg) => {
        series.push({
          name: methodNames[m],
          type: 'line',
          xAxisIndex: i,
          yAxisIndex: i,
          data: seg,
          symbol: 'none',
          showSymbol: false,
          smooth: false,
          clip: true,
          lineStyle: { ...lineStyles[m] },
          itemStyle: { color: lineStyles[m].color },
          z: 2 + m,
          silent: true,
        });
      });
    });

    legend.push({
      data: methodNames,
      orient: 'vertical',
      left: p.legend.left,
      top: p.legend.top,
      padding: 0,
      itemWidth: 28,
      itemHeight: 14,
      itemGap: p.legend.gap,
      selectedMode: false,
      itemStyle: { opacity: 0, borderWidth: 0, color: 'rgba(0,0,0,0)' },
      textStyle: { fontFamily: SERIF, fontSize: 14, color: INK, padding: [0, 0, 0, 1] },
    });

    graphic.push(textEl(p.xName[0], p.xName[1], '{i|x}/m', 14, 0, true));
    graphic.push(textEl(p.yName[0], p.yName[1], '{i|' + yNames[i] + '}/m', 14, Math.PI / 2, true));
    graphic.push(textEl(p.cap[0], p.cap[1], captions[i], 13.5));
  });

  return {
    animation: false,
    backgroundColor: '#ffffff',
    grid,
    xAxis,
    yAxis,
    series,
    legend,
    graphic,
  };
}

export default function App() {
  const ref = useRef<HTMLDivElement>(null);
  useEffect(() => {
    if (!ref.current) return;
    const chart = echarts.init(ref.current, undefined, { renderer: 'svg' });
    chart.setOption(buildOption() as any);
    return () => {
      chart.dispose();
    };
  }, []);
  return (
    <div
      ref={ref}
      style={{ position: 'absolute', left: 0, top: 0, width: 800, height: 612, background: '#fff' }}
    />
  );
}
